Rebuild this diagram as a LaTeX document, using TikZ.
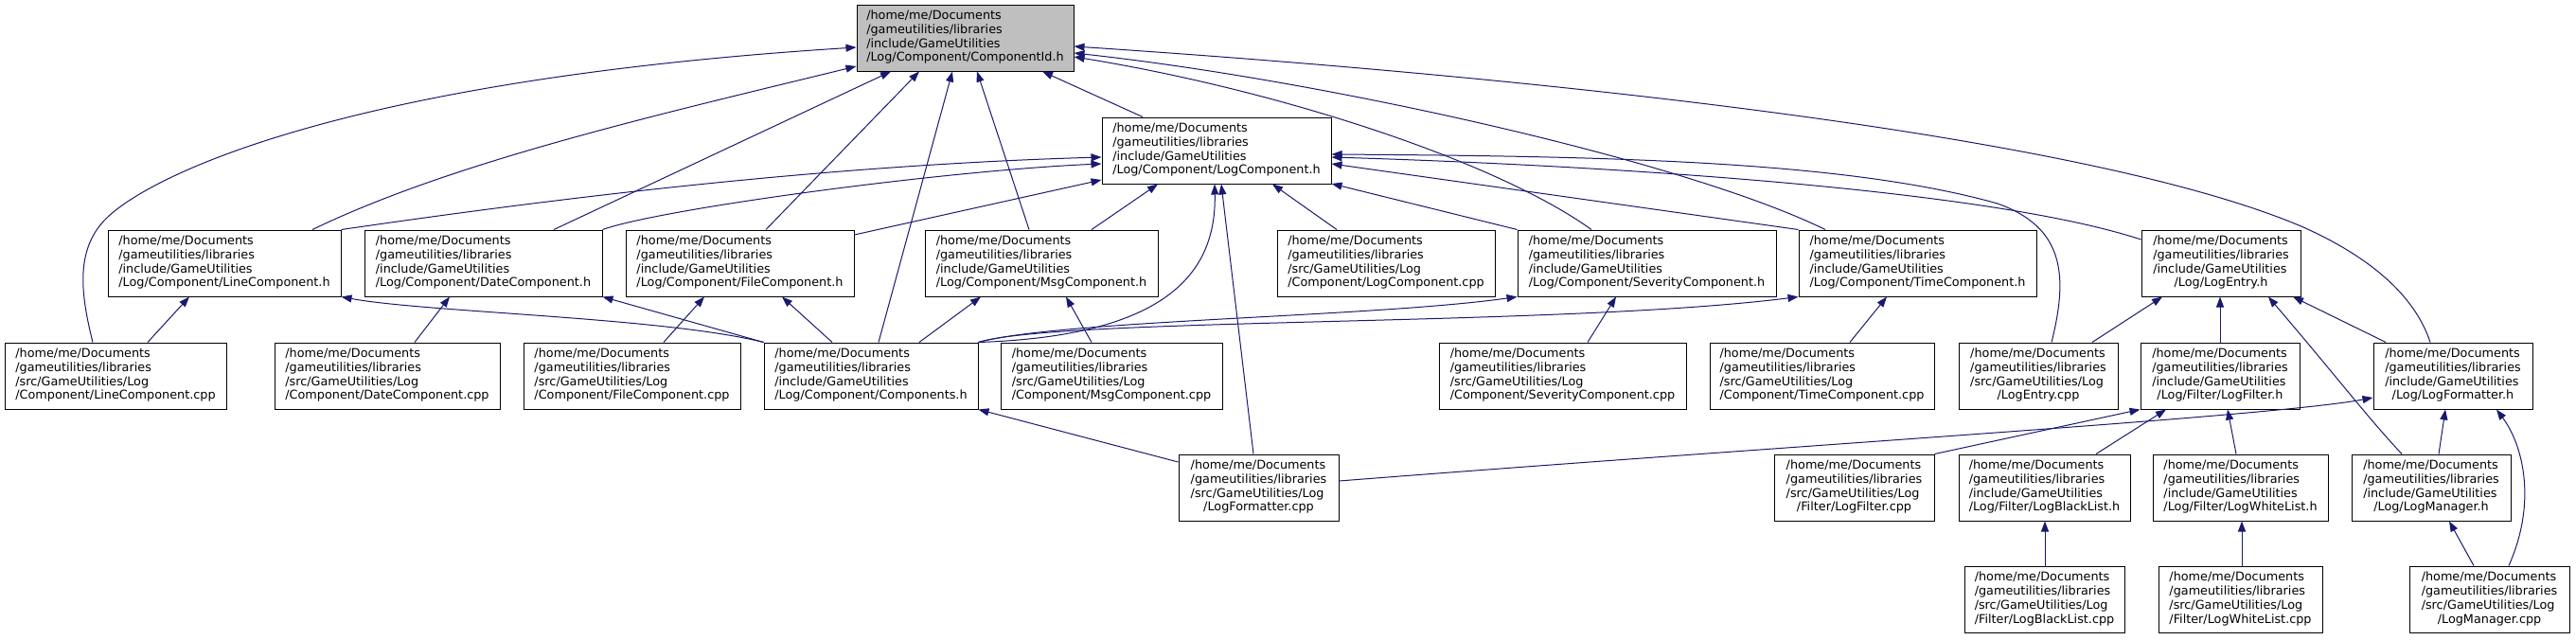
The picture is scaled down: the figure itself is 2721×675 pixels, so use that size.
\documentclass[tikz,border=0pt]{standalone}
\usepackage{fontspec}
\setmainfont{DejaVu Sans}
\usetikzlibrary{arrows.meta}
\definecolor{edgeblue}{HTML}{191970}
\definecolor{hlgray}{HTML}{BFBFBF}
\newcommand\dlbl[4]{\begin{tabular}{@{}l@{}}#1\\#2\\#3\\\multicolumn{1}{@{}c@{}}{#4}\end{tabular}}
\newcommand\hdrlbl[1]{\dlbl{/home/me/Documents}{/gameutilities/libraries}{/include/GameUtilities}{#1}}
\newcommand\srclbl[1]{\dlbl{/home/me/Documents}{/gameutilities/libraries}{/src/GameUtilities/Log}{#1}}
\begin{document}
\begin{tikzpicture}[x=1pt,y=-1pt,
  box/.style={draw=black,line width=1pt,rectangle,inner sep=0pt,minimum height=70pt,
    font=\fontsize{12.8}{14.7}\selectfont,fill=white},
  dep/.style={draw=edgeblue,line width=1pt,-{Triangle[length=11pt,width=8pt]}}]
\useasboundingbox (0,0) rectangle (2721,675);
% row 0/1
\node[box,fill=hlgray,minimum width=229pt] (cid) at (1019.5,40) {\hdrlbl{/Log/Component/ComponentId.h}};
\node[box,minimum width=242pt] (logc) at (1285,159) {\hdrlbl{/Log/Component/LogComponent.h}};
% row 2
\node[box,minimum width=246pt] (lineh) at (237,278) {\hdrlbl{/Log/Component/LineComponent.h}};
\node[box,minimum width=251pt] (dateh) at (510.5,278) {\hdrlbl{/Log/Component/DateComponent.h}};
\node[box,minimum width=241pt] (fileh) at (781.5,278) {\hdrlbl{/Log/Component/FileComponent.h}};
\node[box,minimum width=246pt] (msgh) at (1100,278) {\hdrlbl{/Log/Component/MsgComponent.h}};
\node[box,minimum width=230pt] (logccpp) at (1464,278) {\srclbl{/Component/LogComponent.cpp}};
\node[box,minimum width=273pt] (sevh) at (1739.5,278) {\hdrlbl{/Log/Component/SeverityComponent.h}};
\node[box,minimum width=251pt] (timeh) at (2025.5,278) {\hdrlbl{/Log/Component/TimeComponent.h}};
\node[box,minimum width=168pt] (entryh) at (2346,278) {\hdrlbl{/Log/LogEntry.h}};
% row 3
\node[box,minimum width=234pt] (linecpp) at (122,397) {\srclbl{/Component/LineComponent.cpp}};
\node[box,minimum width=238pt] (datecpp) at (409,397) {\srclbl{/Component/DateComponent.cpp}};
\node[box,minimum width=229pt] (filecpp) at (667.5,397) {\srclbl{/Component/FileComponent.cpp}};
\node[box,minimum width=226pt] (comps) at (920,397) {\hdrlbl{/Log/Component/Components.h}};
\node[box,minimum width=234pt] (msgcpp) at (1174,397) {\srclbl{/Component/MsgComponent.cpp}};
\node[box,minimum width=261pt] (sevcpp) at (1650.5,397) {\srclbl{/Component/SeverityComponent.cpp}};
\node[box,minimum width=237pt] (timecpp) at (1924.5,397) {\srclbl{/Component/TimeComponent.cpp}};
\node[box,minimum width=168pt] (entrycpp) at (2153,397) {\srclbl{/LogEntry.cpp}};
\node[box,minimum width=168pt] (filterh) at (2345,397) {\hdrlbl{/Log/Filter/LogFilter.h}};
\node[box,minimum width=168pt] (fmth) at (2591,397) {\hdrlbl{/Log/LogFormatter.h}};
% row 4
\node[box,minimum width=169pt] (fmtcpp) at (1329.5,515) {\srclbl{/LogFormatter.cpp}};
\node[box,minimum width=169pt] (filtercpp) at (1958.5,515) {\srclbl{/Filter/LogFilter.cpp}};
\node[box,minimum width=181pt] (blackh) at (2159.5,515) {\hdrlbl{/Log/Filter/LogBlackList.h}};
\node[box,minimum width=185pt] (whiteh) at (2366.5,515) {\hdrlbl{/Log/Filter/LogWhiteList.h}};
\node[box,minimum width=168pt] (managerh) at (2568,515) {\hdrlbl{/Log/LogManager.h}};
% row 5
\node[box,minimum width=169pt] (blackcpp) at (2159.5,633) {\srclbl{/Filter/LogBlackList.cpp}};
\node[box,minimum width=173pt] (whitecpp) at (2366.5,633) {\srclbl{/Filter/LogWhiteList.cpp}};
\node[box,minimum width=169pt] (managercpp) at (2629.5,633) {\srclbl{/LogManager.cpp}};
% edges into ComponentId.h
\draw[dep] (linecpp.north -| 98,0) .. controls (85,310) and (80,265) .. (110,233) .. controls (150,190) and (350,85) .. (cid.west |- 0,50);
\draw[dep] (lineh.north -| 330,0) .. controls (480,170) and (700,120) .. (cid.west |- 0,70);
\draw[dep] (dateh.north -| 585,0) -- (cid.south -| 941,0);
\draw[dep] (fileh.north -| 809,0) -- (cid.south -| 971,0);
\draw[dep] (comps.north -| 928,0) -- (cid.south -| 1006,0);
\draw[dep] (msgh.north -| 1087,0) -- (cid.south -| 1032,0);
\draw[dep] (logc.north -| 1207,0) -- (cid.south -| 1101,0);
\draw[dep] (fmth.north -| 2567,0) .. controls (2550,310) and (2500,270) .. (2433,240) .. controls (2200,140) and (1600,80) .. (cid.east |- 0,49);
\draw[dep] (sevh.north -| 1681,0) .. controls (1580,170) and (1350,95) .. (cid.east |- 0,60);
\draw[dep] (timeh.north -| 1928,0) .. controls (1780,170) and (1400,85) .. (cid.east |- 0,56);
% edges into LogComponent.h
\draw[dep] (lineh.north east) .. controls (550,215) and (850,175) .. (logc.west |- 0,166);
\draw[dep] (dateh.north east) .. controls (700,220) and (1000,180) .. (logc.west |- 0,173);
\draw[dep] (fileh.east |- 0,248) -- (logc.west |- 0,190);
\draw[dep] (msgh.north -| 1153,0) -- (logc.south -| 1223,0);
\draw[dep] (comps.north east) .. controls (1230,355) and (1285,290) .. (logc.south -| 1283,0);
\draw[dep] (fmtcpp.north -| 1324,0) -- (logc.south -| 1290,0);
\draw[dep] (logccpp.north -| 1412,0) -- (logc.south -| 1344,0);
\draw[dep] (sevh.north west) -- (logc.east |- 0,194);
\draw[dep] (timeh.north west) -- (logc.east |- 0,173);
\draw[dep] (entryh.west |- 0,253) .. controls (2100,200) and (1700,175) .. (logc.east |- 0,166);
\draw[dep] (entrycpp.north -| 2167,0) .. controls (2185,290) and (2180,240) .. (2110,215) .. controls (1950,170) and (1700,165) .. (logc.east |- 0,163);
% Components.h includes
\draw[dep] (comps.north east) .. controls (1120,338) and (1450,335) .. (sevh.south west);
\draw[dep] (comps.north east) .. controls (1120,335) and (1650,345) .. (timeh.south west);
\draw[dep] (comps.north west) .. controls (700,335) and (450,330) .. (lineh.south east);
\draw[dep] (comps.north west) -- (dateh.south east);
\draw[dep] (comps.north -| 879,0) -- (fileh.south -| 826,0);
\draw[dep] (comps.north -| 971,0) -- (msgh.south -| 1036,0);
% cpp -> headers
\draw[dep] (linecpp.north -| 156,0) -- (lineh.south -| 200,0);
\draw[dep] (datecpp.north -| 438,0) -- (dateh.south -| 475,0);
\draw[dep] (filecpp.north -| 701,0) -- (fileh.south -| 744,0);
\draw[dep] (msgcpp.north -| 1153,0) -- (msgh.south -| 1126,0);
\draw[dep] (sevcpp.north -| 1677,0) -- (sevh.south -| 1707,0);
\draw[dep] (timecpp.north -| 1954,0) -- (timeh.south -| 1993,0);
\draw[dep] (entrycpp.north -| 2210,0) -- (entryh.south -| 2284,0);
\draw[dep] (filterh.north -| 2345,0) -- (entryh.south -| 2345,0);
\draw[dep] (managerh.north -| 2537,0) .. controls (2500,440) and (2470,400) .. (entryh.south -| 2396,0);
\draw[dep] (fmth.north -| 2520,0) -- (entryh.south -| 2422,0);
% row 4
\draw[dep] (fmtcpp.west |- 0,488) -- (comps.south east);
\draw[dep] (fmtcpp.east |- 0,508) .. controls (1900,470) and (2400,440) .. (fmth.west |- 0,420);
\draw[dep] (filtercpp.north east) -- (filterh.south west);
\draw[dep] (blackh.north -| 2214,0) -- (filterh.south -| 2288,0);
\draw[dep] (whiteh.north -| 2362,0) -- (filterh.south -| 2353,0);
\draw[dep] (managerh.north -| 2576,0) -- (fmth.south -| 2583,0);
\draw[dep] (managercpp.north -| 2650,0) .. controls (2680,530) and (2665,470) .. (fmth.south -| 2637,0);
% row 5
\draw[dep] (blackcpp.north -| 2160,0) -- (blackh.south -| 2160,0);
\draw[dep] (whitecpp.north -| 2368,0) -- (whiteh.south -| 2368,0);
\draw[dep] (managercpp.north -| 2613,0) -- (managerh.south -| 2587,0);
\end{tikzpicture}
\end{document}
